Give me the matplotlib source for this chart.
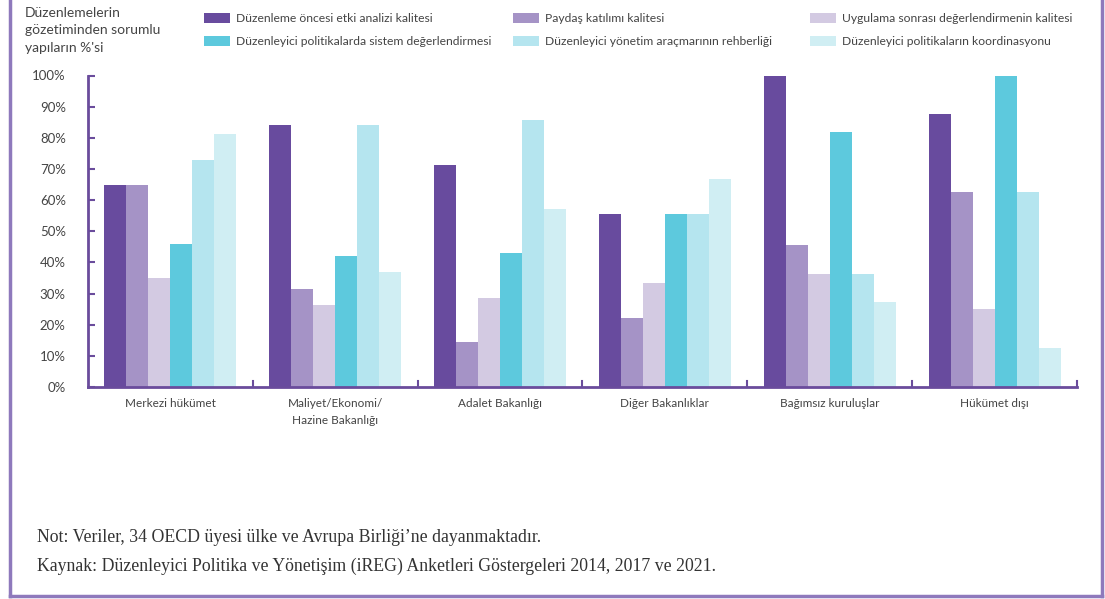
import numpy as np
import matplotlib
matplotlib.use("Agg")
import matplotlib.pyplot as plt
from matplotlib.patches import Patch
from matplotlib.lines import Line2D

# veriler (%)
categories = ["Merkezi hükümet", "Maliyet/Ekonomi/\nHazine Bakanlığı", "Adalet Bakanlığı",
              "Diğer Bakanlıklar", "Bağımsız kuruluşlar", "Hükümet dışı"]
series_names = [
    "Düzenleme öncesi etki analizi kalitesi",
    "Paydaş katılımı kalitesi",
    "Uygulama sonrası değerlendirmenin kalitesi",
    "Düzenleyici politikalarda sistem değerlendirmesi",
    "Düzenleyici yönetim araçmarının rehberliği",
    "Düzenleyici politikaların koordinasyonu",
]
ria_quality = [64.9, 84.2, 71.4, 55.6, 100.0, 87.5]
stakeholder_quality = [64.9, 31.6, 14.3, 22.2, 45.5, 62.5]
ex_post_quality = [35.1, 26.3, 28.6, 33.3, 36.4, 25.0]
system_evaluation = [45.9, 42.1, 42.9, 55.6, 81.8, 100.0]
tool_guidance = [73.0, 84.2, 85.7, 55.6, 36.4, 62.5]
coordination = [81.1, 36.8, 57.1, 66.7, 27.3, 12.5]
series_values = [ria_quality, stakeholder_quality, ex_post_quality,
                 system_evaluation, tool_guidance, coordination]
yticks = [0, 10, 20, 30, 40, 50, 60, 70, 80, 90, 100]

colors = ["#684b9e", "#a593c6", "#d3cae2", "#5dc9dd", "#b5e5ef", "#d0eef3"]
purple = "#6a4c9c"
frame = "#8e79bc"
text_col = "#444444"

W, H = 1105, 599
fig = plt.figure(figsize=(W / 100, H / 100), dpi=100)
ax = fig.add_axes([88 / W, 1 - 387 / H, (1077 - 88) / W, (387 - 75.5) / H])

n = len(series_values)
x = np.arange(len(categories))
bw = 0.8 / n
for i, vals in enumerate(series_values):
    ax.bar(x - 0.4 + bw * (i + 0.5), vals, width=bw, color=colors[i], linewidth=0)

ax.set_xlim(-0.5, len(categories) - 0.5)
ax.set_ylim(0, 100)
ax.set_yticks(yticks)
ax.set_yticklabels([f"{v}%" for v in yticks], fontsize=9.5, color=text_col, family="Lato")
ax.tick_params(axis="y", direction="in", length=5, width=1.5, color=purple, pad=16)

# kategori etiketleri ve ayırıcı çentikler
ax.set_xticks(x)
ax.set_xticklabels(categories, fontsize=8.5, color=text_col, family="Lato", linespacing=1.6)
ax.tick_params(axis="x", length=0, pad=8)
for b in np.arange(len(categories)) + 0.5:
    ax.plot([b, b], [0, 2], color=purple, lw=1.5, clip_on=False)

for s in ["top", "right"]:
    ax.spines[s].set_visible(False)
ax.spines["left"].set_color(purple)
ax.spines["bottom"].set_color(purple)
ax.spines["left"].set_linewidth(2)
ax.spines["bottom"].set_linewidth(2)

# başlık
fig.text(25 / W, 1 - 7 / H, "Düzenlemelerin\ngözetiminden sorumlu\nyapıların %'si",
         ha="left", va="top", fontsize=10, color=text_col, family="Lato", linespacing=1.55)

# lejant: üç sütun
handles = [Patch(facecolor=c, edgecolor="none") for c in colors]
col_x = [200, 509, 806]
for j in range(3):
    leg = fig.legend([handles[j], handles[j + 3]], [series_names[j], series_names[j + 3]],
                     loc="upper left", bbox_to_anchor=(col_x[j] / W, 1 - 9 / H),
                     frameon=False, handlelength=2.2, handleheight=1.0,
                     handletextpad=0.5, labelspacing=0.95, borderaxespad=0, borderpad=0.3,
                     prop={"family": "Lato", "size": 8.7})
    for t in leg.get_texts():
        t.set_color(text_col)

# dipnotlar
fig.text(37 / W, 1 - 538 / H, "Not: Veriler, 34 OECD üyesi ülke ve Avrupa Birliği’ne dayanmaktadır.",
         ha="left", va="center", fontsize=12.8, color="#333333", family="Liberation Serif")
fig.text(37 / W, 1 - 566 / H,
         "Kaynak: Düzenleyici Politika ve Yönetişim (iREG) Anketleri Göstergeleri 2014, 2017 ve 2021.",
         ha="left", va="center", fontsize=12.8, color="#333333", family="Liberation Serif")

# çerçeve
fx = lambda p: p / W
fy = lambda p: 1 - p / H
fig.add_artist(Line2D([fx(9.5), fx(9.5)], [fy(0), fy(596)], color=frame, lw=2.5))
fig.add_artist(Line2D([fx(1102), fx(1102)], [fy(0), fy(596)], color=frame, lw=2.5))
fig.add_artist(Line2D([fx(9.5), fx(1102)], [fy(596), fy(596)], color=frame, lw=2.5))

fig.savefig("out.png", dpi=100)
